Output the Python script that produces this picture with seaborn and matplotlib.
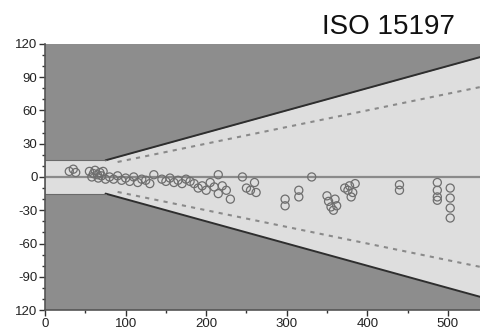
import matplotlib
matplotlib.use("Agg")
import matplotlib.pyplot as plt
import seaborn as sns
import numpy as np
import pandas as pd
from matplotlib.ticker import MultipleLocator, FixedLocator

# Data: reference glucose (mg/dL) vs. difference (mg/dL)
ref_x = [30, 35, 38, 55, 58, 60, 62, 65, 66, 68, 70, 72, 75,
         80, 85, 90, 95, 100, 105, 110, 115, 120, 125, 130, 135,
         145, 150, 155, 160, 165, 170, 175, 180,
         185, 190, 195, 200, 205, 210, 215, 215, 220, 225, 230,
         245, 250, 255, 260, 262,
         298, 298, 315, 315, 331,
         350, 352, 355, 358, 360, 362,
         372, 376, 378, 380, 382, 385,
         440, 440, 487, 487, 487, 487, 503, 503, 503, 503]
diff_y = [5, 7, 4, 5, 0, 3, 6, 2, -1, 4, 1, 5, -2,
          0, -2, 1, -3, -1, -4, 0, -5, -2, -3, -6, 2,
          -2, -4, -1, -5, -3, -6, -2, -4,
          -6, -10, -8, -12, -5, -9, -15, 2, -8, -12, -20,
          0, -10, -12, -5, -14,
          -20, -26, -12, -18, 0,
          -17, -22, -27, -30, -20, -26,
          -10, -12, -8, -18, -14, -6,
          -7, -12, -5, -12, -18, -21, -10, -19, -28, -37]

# ISO 15197 limits
lim_x = [0, 75, 540]
lim_upper = [15, 15, 108]          # +-15 mg/dL below 75, +-20 % above
lim15_x = [90, 540]
lim15_upper = [13.5, 81]           # +-15 % line

y_ticks = [120, 90, 60, 30, 0, -30, -60, -90, -120]
y_labels = ["120", "90", "60", "30", "0", "-30", "-60", "-90", "120"]
x_ticks = [0, 100, 200, 300, 400, 500]

sns.set_style("white")
plt.rcParams['font.family'] = ['Liberation Sans', 'DejaVu Sans']

fig = plt.figure(figsize=(4.8, 3.32), dpi=100)
ax = fig.add_axes([0.094, 0.066, 0.906, 0.802])

dark = "#8d8d8d"
light = "#dedede"
ax.set_facecolor(dark)
up = np.array(lim_upper)
ax.fill_between(lim_x, -up, up, color=light, lw=0, zorder=1)

# boundary lines
ax.plot(lim_x[1:], up[1:], color="#2e2e2e", lw=1.4, zorder=2)
ax.plot(lim_x[1:], -up[1:], color="#2e2e2e", lw=1.4, zorder=2)
ax.plot(lim_x[:2], up[:2], color="#6a6a6a", lw=0.8, zorder=2)
ax.plot(lim_x[:2], -up[:2], color="#6a6a6a", lw=0.8, zorder=2)
up15 = np.array(lim15_upper)
ax.plot(lim15_x, up15, color="#8a8a8a", lw=1.5, ls=(0, (2, 2.5)), zorder=2)
ax.plot(lim15_x, -up15, color="#8a8a8a", lw=1.5, ls=(0, (2, 2.5)), zorder=2)
ax.axhline(0, color="#8a8a8a", lw=1.6, zorder=2)

df = pd.DataFrame({"ref": ref_x, "diff": diff_y})
sns.scatterplot(data=df, x="ref", y="diff", ax=ax, marker="o", s=34,
                facecolor="none", edgecolor="#6e6e6e", linewidth=0.9, zorder=3)

ax.set_xlim(0, 540)
ax.set_ylim(-120, 120)
ax.set_xlabel("")
ax.set_ylabel("")
ax.yaxis.set_major_locator(FixedLocator(y_ticks))
ax.set_yticklabels(y_labels)
ax.yaxis.set_minor_locator(MultipleLocator(10))
ax.xaxis.set_major_locator(FixedLocator(x_ticks))
ax.xaxis.set_minor_locator(MultipleLocator(50))
ax.tick_params(axis="both", which="major", direction="out", length=4, width=1,
               color="#333333", labelsize=9.5, labelcolor="#222222", pad=1.5,
               left=True, bottom=True)
ax.tick_params(axis="both", which="minor", direction="out", length=2.5, width=1,
               color="#333333", left=True, bottom=True)

for s in ["top", "right"]:
    ax.spines[s].set_visible(False)
for s in ["left", "bottom"]:
    ax.spines[s].set_color("#555555")
    ax.spines[s].set_linewidth(1.2)

fig.text(322 / 480, 1 - 27 / 332, "ISO 15197", fontsize=20, color="#111111",
         ha="left", va="center", family=["Liberation Sans", "DejaVu Sans"])

fig.savefig("out.png", dpi=100)
